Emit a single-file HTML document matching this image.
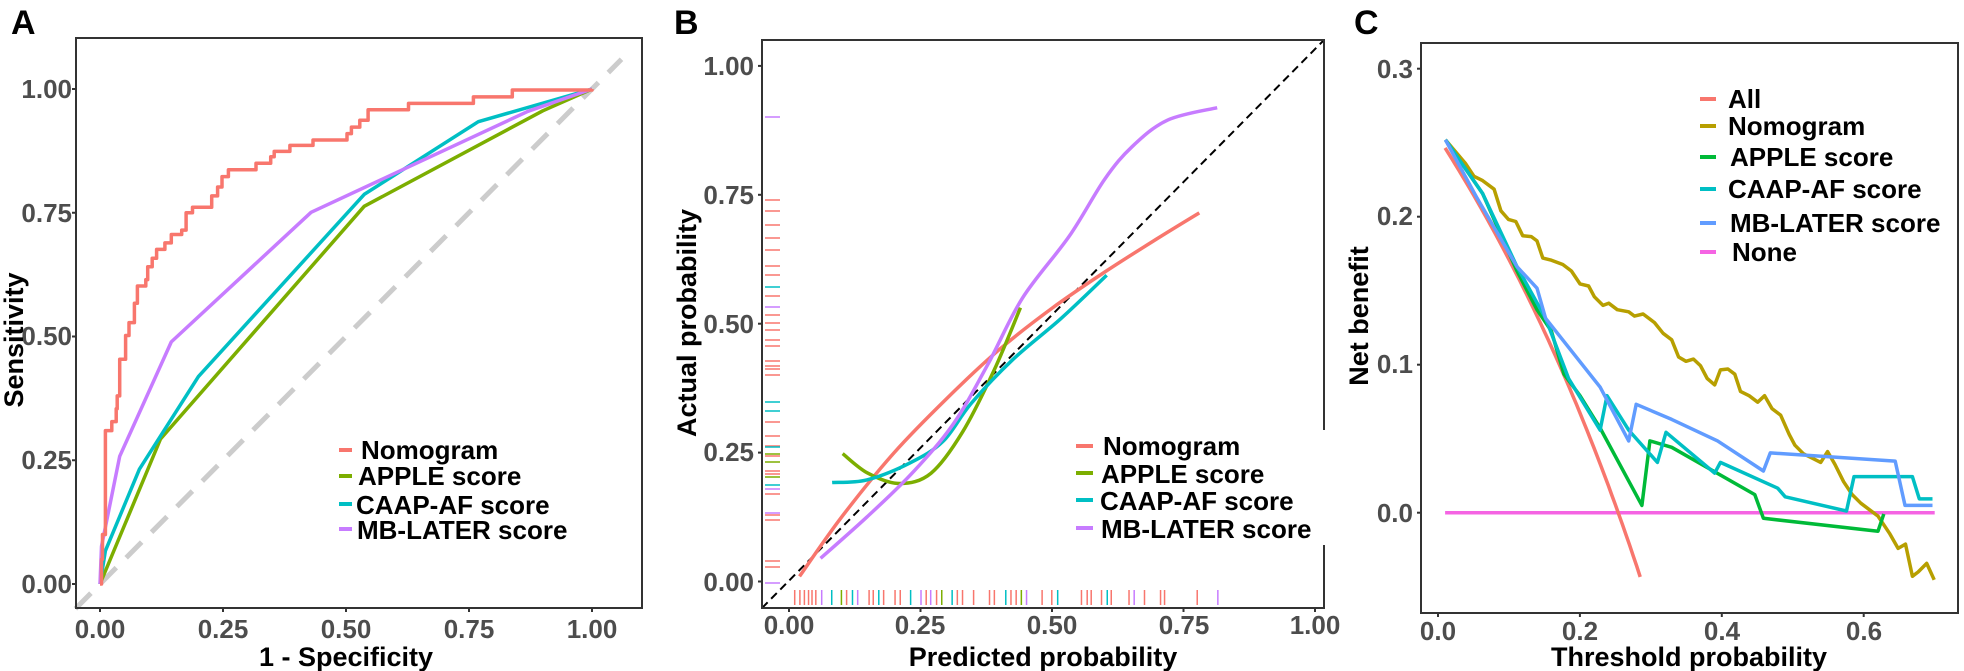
<!DOCTYPE html>
<html><head><meta charset="utf-8">
<style>
html,body{margin:0;padding:0;background:#fff;}
svg{display:block;}
text{font-family:"Liberation Sans",Arial,sans-serif;font-weight:bold;}
.tk{fill:#4d4d4d;font-size:26px;}
.ti{fill:#000;font-size:27px;}
.lg{fill:#000;font-size:26px;}
.pl{font-size:34px;fill:#000;}
</style></head>
<body>
<svg id="s" width="1964" height="671" viewBox="0 0 1964 671" xmlns="http://www.w3.org/2000/svg">
<rect width="1964" height="671" fill="#fff"/>
<text class="pl" x="11" y="34">A</text>
<text class="pl" x="674" y="34">B</text>
<text class="pl" x="1354" y="34">C</text>

<g id="A"></g>
<rect x="76" y="38" width="566" height="570" fill="none" stroke="#333" stroke-width="2"/>
<g class="tk" text-anchor="end">
<text x="72" y="98">1.00</text><text x="72" y="222">0.75</text><text x="72" y="345">0.50</text><text x="72" y="469">0.25</text><text x="72" y="593">0.00</text>
</g>
<g class="tk" text-anchor="middle">
<text x="100" y="638">0.00</text><text x="223" y="638">0.25</text><text x="346" y="638">0.50</text><text x="469" y="638">0.75</text><text x="592" y="638">1.00</text>
</g>
<text class="ti" x="346" y="666" text-anchor="middle">1 - Specificity</text>
<text class="ti" transform="translate(23,340) rotate(-90)" text-anchor="middle">Sensitivity</text>
<g class="lg">
<line x1="339" y1="450" x2="352" y2="450" stroke="#F8766D" stroke-width="4"/><text x="361" y="459">Nomogram</text>
<line x1="339" y1="476" x2="352" y2="476" stroke="#7CAE00" stroke-width="4"/><text x="358" y="485">APPLE score</text>
<line x1="339" y1="504" x2="352" y2="504" stroke="#00BFC4" stroke-width="4"/><text x="356" y="514">CAAP-AF score</text>
<line x1="339" y1="529" x2="352" y2="529" stroke="#C77CFF" stroke-width="4"/><text x="357" y="539">MB-LATER score</text>
</g>

<g id="B"></g>
<rect x="1070" y="430" width="258" height="115" fill="#fff"/>
<path d="M1324,430 V40 H762 V608 H1324 V545" fill="none" stroke="#333" stroke-width="2"/>
<g class="tk" text-anchor="end">
<text x="754" y="75">1.00</text><text x="754" y="204">0.75</text><text x="754" y="333">0.50</text><text x="754" y="461">0.25</text><text x="754" y="591">0.00</text>
</g>
<g class="tk" text-anchor="middle">
<text x="789" y="634">0.00</text><text x="920" y="634">0.25</text><text x="1052" y="634">0.50</text><text x="1184" y="634">0.75</text><text x="1315" y="634">1.00</text>
</g>
<text class="ti" x="1043" y="666" text-anchor="middle">Predicted probability</text>
<text class="ti" transform="translate(696,323) rotate(-90)" text-anchor="middle">Actual probability</text>
<g class="lg">
<line x1="1076" y1="446" x2="1093" y2="446" stroke="#F8766D" stroke-width="4"/><text x="1103" y="455">Nomogram</text>
<line x1="1076" y1="473" x2="1093" y2="473" stroke="#7CAE00" stroke-width="4"/><text x="1101" y="483">APPLE score</text>
<line x1="1076" y1="500" x2="1093" y2="500" stroke="#00BFC4" stroke-width="4"/><text x="1100" y="510">CAAP-AF score</text>
<line x1="1076" y1="528" x2="1093" y2="528" stroke="#C77CFF" stroke-width="4"/><text x="1101" y="538">MB-LATER score</text>
</g>

<g id="C"></g>
<rect x="1421" y="43" width="537" height="570" fill="none" stroke="#333" stroke-width="2"/>
<g class="tk" text-anchor="end">
<text x="1413" y="78">0.3</text><text x="1413" y="225">0.2</text><text x="1413" y="373">0.1</text><text x="1413" y="522">0.0</text>
</g>
<g class="tk" text-anchor="middle">
<text x="1438" y="640">0.0</text><text x="1580" y="640">0.2</text><text x="1722" y="640">0.4</text><text x="1864" y="640">0.6</text>
</g>
<text class="ti" x="1689" y="666" text-anchor="middle">Threshold probability</text>
<text class="ti" transform="translate(1368,316) rotate(-90)" text-anchor="middle">Net benefit</text>
<g class="lg">
<line x1="1700" y1="99" x2="1716" y2="99" stroke="#F8766D" stroke-width="4"/><text x="1728" y="108">All</text>
<line x1="1700" y1="126" x2="1716" y2="126" stroke="#B79F00" stroke-width="4"/><text x="1728" y="135">Nomogram</text>
<line x1="1700" y1="157" x2="1716" y2="157" stroke="#00BA38" stroke-width="4"/><text x="1730" y="166">APPLE score</text>
<line x1="1700" y1="189" x2="1716" y2="189" stroke="#00BFC4" stroke-width="4"/><text x="1728" y="198">CAAP-AF score</text>
<line x1="1700" y1="223" x2="1716" y2="223" stroke="#619CFF" stroke-width="4"/><text x="1730" y="232">MB-LATER score</text>
<line x1="1700" y1="252" x2="1716" y2="252" stroke="#F564E3" stroke-width="4"/><text x="1732" y="261">None</text>
</g>
</svg>
<script>
var NS="http://www.w3.org/2000/svg";
function add(g,tag,at){var e=document.createElementNS(NS,tag);for(var k in at)e.setAttribute(k,at[k]);document.getElementById(g).appendChild(e);return e;}
function poly(g,pts,col,w,extra){var d="M"+pts.map(function(p){return p[0].toFixed(1)+","+p[1].toFixed(1)}).join(" L");var a={d:d,fill:"none",stroke:col,"stroke-width":w||3.5,"stroke-linejoin":"round","stroke-linecap":"butt"};for(var k in extra)a[k]=extra[k];return add(g,"path",a);}
function smooth(g,pts,col,w){var d="M"+pts[0][0]+","+pts[0][1];for(var i=0;i<pts.length-1;i++){var p0=pts[i-1]||pts[i],p1=pts[i],p2=pts[i+1],p3=pts[i+2]||p2;d+=" C"+(p1[0]+(p2[0]-p0[0])/6)+","+(p1[1]+(p2[1]-p0[1])/6)+" "+(p2[0]-(p3[0]-p1[0])/6)+","+(p2[1]-(p3[1]-p1[1])/6)+" "+p2[0]+","+p2[1];}add(g,"path",{d:d,fill:"none",stroke:col,"stroke-width":w||3.5});}
function AX(x){return 100+492*x;} function AY(y){return 584-495*y;}
function A(p){return p.map(function(q){return [AX(q[0]),AY(q[1])]});}
[0,.25,.5,.75,1].forEach(function(v){add("A","line",{x1:72,x2:76,y1:AY(v),y2:AY(v),stroke:"#333","stroke-width":2});add("A","line",{x1:AX(v),x2:AX(v),y1:608,y2:612,stroke:"#333","stroke-width":2});});
poly("A",A([[-0.05,-0.05],[1.06,1.06]]),"#cccccc",5,{"stroke-dasharray":"22,14"});
poly("A",A([[0,0],[0.123,0.293],[0.537,0.763],[0.9,0.956],[1,1]]),"#7CAE00");
poly("A",A([[0,0],[0.011,0.067],[0.08,0.232],[0.2,0.419],[0.537,0.787],[0.769,0.934],[1,1]]),"#00BFC4");
poly("A",A([[0,0],[0.003,0.076],[0.04,0.258],[0.145,0.489],[0.429,0.751],[0.87,0.955],[1,1]]),"#C77CFF");
var nom=[[0,0],[0.003,0.05],[0.005,0.1],[0.011,0.12],[0.011,0.31],[0.024,0.328],[0.033,0.354],[0.035,0.38],[0.04,0.454],[0.052,0.502],[0.059,0.528],[0.07,0.567],[0.076,0.602],[0.093,0.615],[0.097,0.641],[0.106,0.658],[0.115,0.676],[0.132,0.689],[0.145,0.706],[0.166,0.715],[0.175,0.75],[0.188,0.761],[0.224,0.761],[0.227,0.784],[0.239,0.802],[0.248,0.823],[0.261,0.837],[0.313,0.837],[0.317,0.85],[0.347,0.863],[0.354,0.874],[0.386,0.886],[0.433,0.897],[0.498,0.897],[0.502,0.91],[0.511,0.923],[0.528,0.937],[0.545,0.958],[0.627,0.971],[0.759,0.984],[0.838,0.998],[1,1]];
var st=[nom[0]];for(var i=1;i<nom.length;i++){st.push([nom[i][0],nom[i-1][1]]);st.push(nom[i]);}
poly("A",A(st),"#F8766D");
function BX(x){return 789+526*x;} function BY(y){return 581.5-515.6*y;}
function B(p){return p.map(function(q){return [BX(q[0]),BY(q[1])]});}
[0,.25,.5,.75,1].forEach(function(v){add("B","line",{x1:758,x2:762,y1:BY(v),y2:BY(v),stroke:"#333","stroke-width":2});add("B","line",{x1:BX(v),x2:BX(v),y1:608,y2:612,stroke:"#333","stroke-width":2});});
var lr=[[117,"#C77CFF"]];[200,211,225,238,250,266,275,296,315,323,330,340,346,361,366,369,375,422,436,446,456,471,474,494,515,520,561,567].forEach(function(y){lr.push([y,"#F8766D"]);});
[[287,"#00BFC4"],[307,"#C77CFF"],[402,"#00BFC4"],[411,"#00BFC4"],[447,"#00BFC4"],[454,"#7CAE00"],[462,"#7CAE00"],[477,"#7CAE00"],[485,"#00BFC4"],[489,"#C77CFF"],[513,"#C77CFF"],[583,"#C77CFF"]].forEach(function(a){lr.push(a);});
lr.forEach(function(a){add("B","line",{x1:765,x2:780,y1:a[0],y2:a[0],stroke:a[1],"stroke-width":1.5});});
var br=[];
[[765,"r"],[780,"r"],[793,"r"],[805,"r"],[815,"r"],[826,"r"],[843,"p"],[872,"c"],[900,"g"],[915,"r"],[932,"c"],[947,"p"],[980,"r"],[992,"r"],[1008,"c"],[1022,"r"],[1055,"r"],[1070,"r"],[1100,"c"],[1130,"p"],[1145,"r"],[1158,"p"],[1175,"r"],[1190,"g"],[1220,"c"],[1235,"r"],[1250,"r"],[1282,"r"],[1328,"r"],[1342,"r"],[1375,"c"],[1390,"r"],[1405,"r"],[1420,"g"],[1435,"p"],[1480,"r"],[1508,"r"],[1525,"c"]].forEach(function(a){br.push([a[0]/2.89+530,a[1]]);});
[[20,"r"],[30,"r"],[37,"r"],[55,"r"],[65,"c"],[72,"r"],[103,"r"],[112,"p"],[130,"r"],[158,"r"],[165,"r"],[222,"r"],[258,"p"]].forEach(function(a){br.push([a[0]/1.745+1070,a[1]]);});
var cm={r:"#F8766D",g:"#7CAE00",c:"#00BFC4",p:"#C77CFF"};
br.forEach(function(a){add("B","line",{x1:a[0],x2:a[0],y1:590,y2:605,stroke:cm[a[1]],"stroke-width":1.5});});
poly("B",[[762,608],[1324,40]],"#000",2,{"stroke-dasharray":"8,5"});
smooth("B",B([[0.02,0.01],[0.1,0.125],[0.2,0.25],[0.3,0.355],[0.4,0.45],[0.5,0.53],[0.6,0.6],[0.7,0.665],[0.78,0.715]]),"#F8766D");
smooth("B",B([[0.102,0.248],[0.15,0.21],[0.21,0.19],[0.27,0.21],[0.33,0.29],[0.39,0.41],[0.44,0.531]]),"#7CAE00");
smooth("B",B([[0.082,0.192],[0.148,0.197],[0.23,0.23],[0.293,0.272],[0.346,0.345],[0.425,0.43],[0.517,0.51],[0.604,0.594]]),"#00BFC4");
smooth("B",B([[0.06,0.045],[0.148,0.125],[0.233,0.209],[0.312,0.305],[0.378,0.421],[0.444,0.55],[0.533,0.67],[0.6,0.78],[0.653,0.844],[0.72,0.895],[0.814,0.919]]),"#C77CFF");
function CX(x){return 1438+709.5*x;} function CY(y){return 512.7-1480*y;}
[0,.1,.2,.3].forEach(function(v){add("C","line",{x1:1417,x2:1421,y1:CY(v),y2:CY(v),stroke:"#333","stroke-width":2});});
[0,.2,.4,.6].forEach(function(v){add("C","line",{x1:CX(v),x2:CX(v),y1:613,y2:617,stroke:"#333","stroke-width":2});});
function Z(p){return p.map(function(q){return [q[0]/1.745+1070,q[1]/2.325]});}
poly("C",[[CX(0.01),CY(0)],[CX(0.7),CY(0)]],"#F564E3");
var all=[];for(var t=0.01;t<=0.2851;t+=0.005){all.push([CX(t),CY(0.254-0.746*t/(1-t))]);}
poly("C",all,"#F8766D");
poly("C",Z([[655,325],[690,380],[705,410],[720,420],[740,440],[752,490],[765,510],[778,515],[790,548],[805,550],[815,560],[825,600],[840,605],[860,615],[875,630],[890,660],[905,665],[915,690],[930,710],[940,705],[955,720],[975,725],[985,735],[1000,730],[1020,750],[1035,775],[1050,790],[1062,830],[1075,840],[1088,835],[1100,850],[1112,880],[1125,895],[1135,860],[1148,858],[1160,870],[1170,910],[1185,920],[1200,935],[1212,920],[1225,950],[1240,965],[1255,1010],[1265,1035],[1280,1055],[1295,1065],[1310,1075],[1322,1050],[1335,1080],[1350,1120],[1365,1150],[1380,1170],[1395,1185],[1410,1200],[1430,1240],[1445,1275],[1458,1265],[1470,1340],[1480,1330],[1495,1310],[1508,1348]]),"#B79F00");
poly("C",Z([[655,325],[720,450],[780,630],[815,720],[840,770],[862,870],[890,920],[925,995],[998,1175],[1012,1025],[1050,1040],[1195,1150],[1210,1205],[1410,1235],[1420,1195]]),"#00BA38");
poly("C",Z([[655,325],[720,450],[780,620],[830,740],[870,880],[925,1000],[937,920],[975,1000],[1025,1075],[1040,1005],[1125,1100],[1135,1075],[1235,1135],[1248,1155],[1355,1188],[1368,1108],[1470,1108],[1482,1160],[1505,1160]]),"#00BFC4");
poly("C",Z([[655,325],[710,460],[780,620],[815,670],[830,740],[925,900],[975,1025],[988,940],[1050,975],[1130,1025],[1210,1095],[1222,1053],[1440,1072],[1457,1175],[1505,1175]]),"#619CFF");
</script>
</body></html>
